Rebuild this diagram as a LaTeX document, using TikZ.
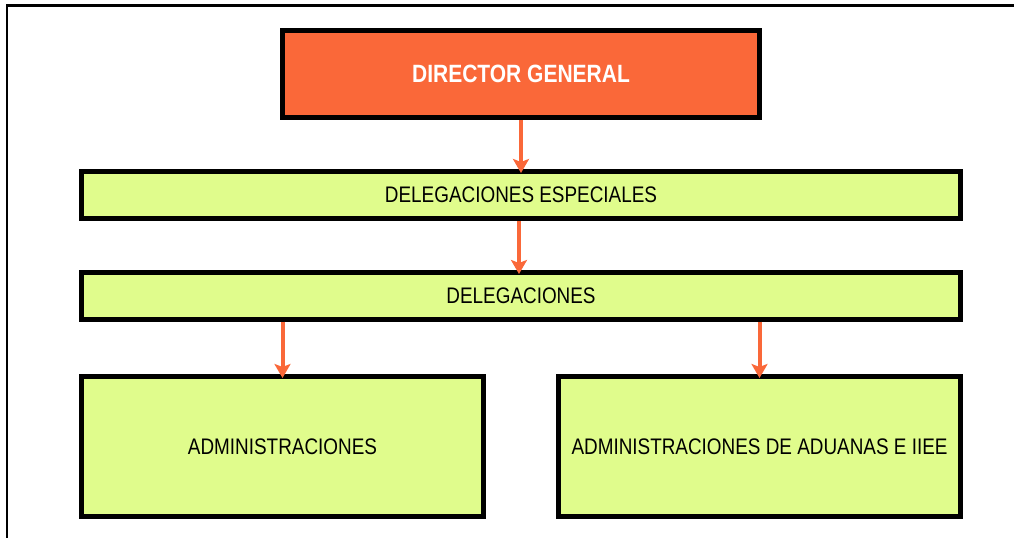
\documentclass[tikz,border=0pt]{standalone}
\usepackage{fontspec}
\setmainfont{Liberation Sans}[FakeStretch=0.84]
\usepackage{tikz}
\usetikzlibrary{arrows.meta,positioning}
\definecolor{dirorange}{HTML}{FA6839}
\definecolor{delgreen}{HTML}{E0FC8C}

\begin{document}
\begin{tikzpicture}[x=1pt,y=-1pt,
  unit/.style={draw,line width=5pt,fill=delgreen,inner sep=0pt,align=center,font=\fontsize{22.5}{25}\selectfont},
  head/.style={unit,fill=dirorange,text=white,font=\fontsize{25}{28}\selectfont\bfseries},
  dep/.style={-{Stealth[length=14pt,width=16pt,inset=3pt]},line width=4pt,draw=dirorange,shorten >=-4pt}
]
  \useasboundingbox (0,0) rectangle (1014,538);
  \draw[line width=2.5pt] (1014,5.5) -- (7,5.5) -- (7,538);
  \node[head,minimum width=477pt,minimum height=87pt] (dg) at (521,74) {DIRECTOR GENERAL};
  \node[unit,minimum width=879pt,minimum height=47pt] (desp) at (521,195) {DELEGACIONES ESPECIALES};
  \node[unit,minimum width=879pt,minimum height=46.5pt] (del) at (521,295.75) {DELEGACIONES};
  \node[unit,minimum width=402pt,minimum height=139.5pt] (adm) at (282.5,446.25) {ADMINISTRACIONES};
  \node[unit,minimum width=402pt,minimum height=139.5pt] (adu) at (759.5,446.25) {ADMINISTRACIONES DE ADUANAS E IIEE};
  \draw[dep] (dg.south) -- (desp.north);
  \draw[dep] ([xshift=-2pt]desp.south) -- ([xshift=-2pt]del.north);
  \draw[dep] (adm.north |- del.south) -- (adm.north);
  \draw[dep] (adu.north |- del.south) -- (adu.north);
\end{tikzpicture}
\end{document}
